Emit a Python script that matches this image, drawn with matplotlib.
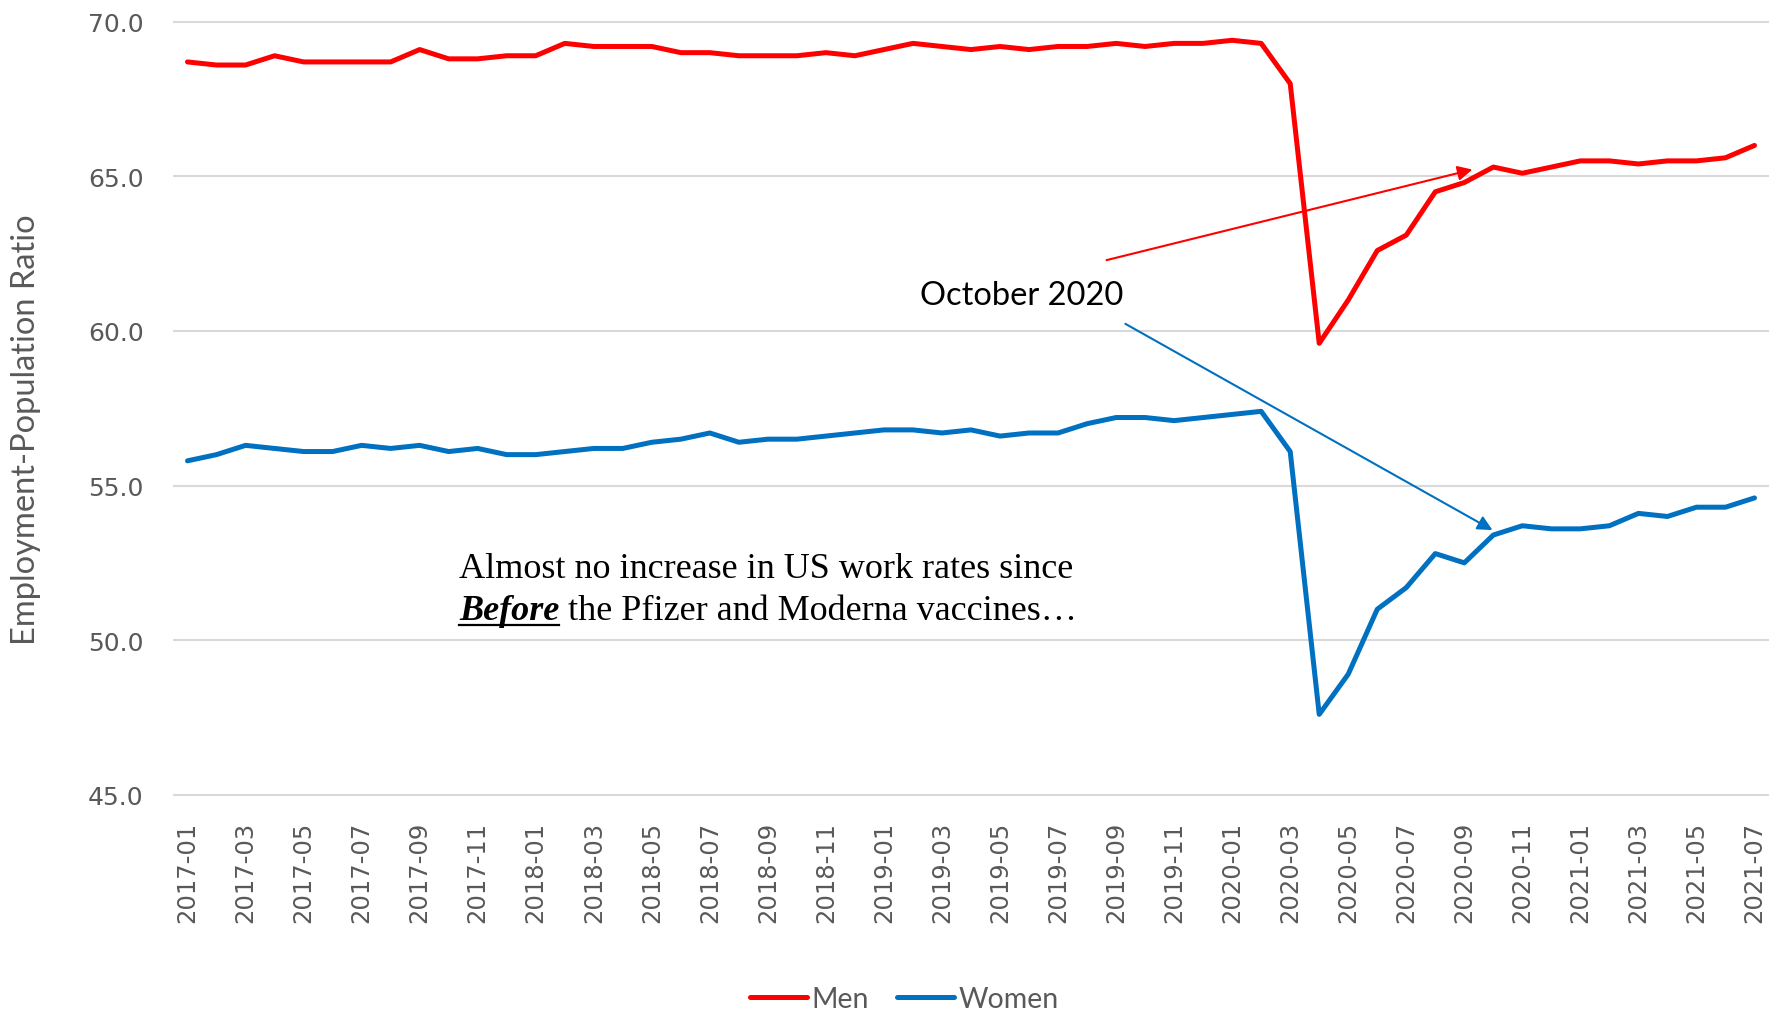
import matplotlib
matplotlib.use("Agg")
import matplotlib.pyplot as plt
import numpy as np

months = ["2017-01","2017-02","2017-03","2017-04","2017-05","2017-06","2017-07","2017-08","2017-09","2017-10","2017-11","2017-12",
          "2018-01","2018-02","2018-03","2018-04","2018-05","2018-06","2018-07","2018-08","2018-09","2018-10","2018-11","2018-12",
          "2019-01","2019-02","2019-03","2019-04","2019-05","2019-06","2019-07","2019-08","2019-09","2019-10","2019-11","2019-12",
          "2020-01","2020-02","2020-03","2020-04","2020-05","2020-06","2020-07","2020-08","2020-09","2020-10","2020-11","2020-12",
          "2021-01","2021-02","2021-03","2021-04","2021-05","2021-06","2021-07"]

men = [68.7, 68.6, 68.6, 68.9, 68.7, 68.7, 68.7, 68.7, 69.1, 68.8, 68.8, 68.9,
       68.9, 69.3, 69.2, 69.2, 69.2, 69.0, 69.0, 68.9, 68.9, 68.9, 69.0, 68.9,
       69.1, 69.3, 69.2, 69.1, 69.2, 69.1, 69.2, 69.2, 69.3, 69.2, 69.3, 69.3,
       69.4, 69.3, 68.0, 59.6, 61.0, 62.6, 63.1, 64.5, 64.8, 65.3, 65.1, 65.3,
       65.5, 65.5, 65.4, 65.5, 65.5, 65.6, 66.0]

women = [55.8, 56.0, 56.3, 56.2, 56.1, 56.1, 56.3, 56.2, 56.3, 56.1, 56.2, 56.0,
         56.0, 56.1, 56.2, 56.2, 56.4, 56.5, 56.7, 56.4, 56.5, 56.5, 56.6, 56.7,
         56.8, 56.8, 56.7, 56.8, 56.6, 56.7, 56.7, 57.0, 57.2, 57.2, 57.1, 57.2,
         57.3, 57.4, 56.1, 47.6, 48.9, 51.0, 51.7, 52.8, 52.5, 53.4, 53.7, 53.6,
         53.6, 53.7, 54.1, 54.0, 54.3, 54.3, 54.6]

y_ticks = [45.0, 50.0, 55.0, 60.0, 65.0, 70.0]
annot_label = "October 2020"
note_line1 = "Almost no increase in US work rates since"
note_word = "Before"
note_rest = " the Pfizer and Moderna vaccines\u2026"

W, H = 1778, 1012
fig = plt.figure(figsize=(W / 100, H / 100), dpi=100)
ax = fig.add_axes([173 / W, 1 - 797 / H, (1769 - 173) / W, (797 - 21.5) / H])

x = np.arange(len(months))
RED = "#FF0000"
BLUE = "#0070C0"
GRAY = "#595959"

ax.plot(x, men, color=RED, lw=3.6, label="Men", solid_joinstyle="round", solid_capstyle="round", zorder=3)
ax.plot(x, women, color=BLUE, lw=3.6, label="Women", solid_joinstyle="round", solid_capstyle="round", zorder=3)

ax.set_xlim(-0.5, len(months) - 0.5)
ax.set_ylim(45 - 0.04, 70 + 0.04)
ax.set_yticks(y_ticks)
ax.set_yticklabels([f"{v:.1f}" for v in y_ticks])
ax.set_xticks(x[::2])
ax.set_xticklabels(months[::2], rotation=90)
for s in ax.spines.values():
    s.set_visible(False)
ax.grid(axis="y", color="#D9D9D9", lw=1.5, zorder=0)
ax.tick_params(axis="both", length=0, colors=GRAY)
ax.tick_params(axis="y", pad=21, labelsize=18)
ax.tick_params(axis="x", pad=18, labelsize=17.5)
for lab in ax.get_yticklabels() + ax.get_xticklabels():
    lab.set_fontfamily("DejaVu Sans")

fig.text(26 / W, 1 - 430 / H, "Employment-Population Ratio", rotation=90, ha="center", va="center",
         fontsize=23.5, color=GRAY, family=["Lato", "DejaVu Sans"])

# arrows
ax.annotate("", xy=(44.28, 65.22), xytext=(31.67, 62.29),
            arrowprops=dict(arrowstyle="-|>", color=RED, lw=1.5, mutation_scale=22, shrinkA=0, shrinkB=0))
ax.annotate("", xy=(44.97, 53.56), xytext=(32.32, 60.23),
            arrowprops=dict(arrowstyle="-|>", color=BLUE, lw=1.5, mutation_scale=22, shrinkA=0, shrinkB=0))

fig.text(1022 / W, 1 - 296 / H, annot_label, ha="center", va="center", fontsize=23.5,
         color="black", family=["Lato", "DejaVu Sans"])

# note text
serif = ["Liberation Serif", "DejaVu Serif"]
fig.text(459 / W, 1 - 578 / H, note_line1, ha="left", va="baseline", fontsize=26, family=serif, color="black")
t_b = fig.text(459 / W, 1 - 620 / H, note_word, ha="left", va="baseline", fontsize=26, family=serif,
               weight="bold", style="italic", color="black")
fig.canvas.draw()
r = fig.canvas.get_renderer()
bb = t_b.get_window_extent(r)
fig.text(bb.x1 / W, 1 - 620 / H, note_rest, ha="left", va="baseline", fontsize=26, family=serif, color="black")
fig.add_artist(plt.Line2D([bb.x0 / W, bb.x1 / W], [1 - 626 / H, 1 - 626 / H], color="black", lw=1.6))

leg = fig.legend(loc="center", bbox_to_anchor=(904 / W, 1 - 1000 / H), ncol=2, frameon=False,
                 handlelength=2.0, handletextpad=0.15, columnspacing=1.0,
                 prop={"family": ["Lato", "DejaVu Sans"], "size": 20.5})
for t in leg.get_texts():
    t.set_color(GRAY)

fig.savefig("out.png", dpi=100)
